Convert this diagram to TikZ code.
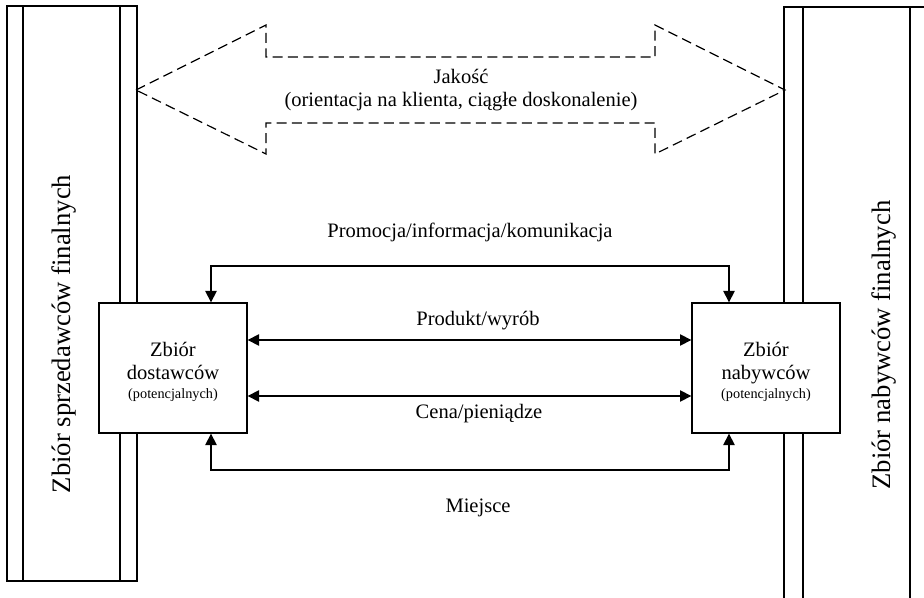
\documentclass[tikz,border=0pt]{standalone}
\usepackage{fontspec}
\setmainfont{Liberation Serif}
\usetikzlibrary{arrows.meta}

\begin{document}
\begin{tikzpicture}[x=0.75pt, y=-0.75pt,
    bar/.style={line width=1pt},
    box/.style={draw, fill=white, line width=1pt, minimum width=111pt, minimum height=97.5pt, inner sep=0pt},
    boxtext/.style={align=center, inner sep=0pt, font=\fontsize{15.4}{17.3}\selectfont},
    arr/.style={line width=1pt, {Triangle[length=8.5pt,width=8.5pt]}-{Triangle[length=8.5pt,width=8.5pt]}},
    lbl/.style={font=\fontsize{15.4}{17}\selectfont, inner sep=0pt},
    side/.style={font=\fontsize{20}{22}\selectfont, inner sep=0pt, rotate=90}]
    \useasboundingbox (0,0) rectangle (924,598);

    % the two side bars
    \begin{scope}
      \clip (0,0) rectangle (924,598);
      \draw[bar] (7,6) rectangle (137,581);
      \draw[bar] (23,6) -- (23,581);
      \draw[bar] (120,6) -- (120,581);
      \draw[bar] (784,610) -- (784,7) -- (940,7);
      \draw[bar] (803,7) -- (803,610);
      \draw[bar] (910,7) -- (910,610);
    \end{scope}
    \node[side] (sprz) at (64,334) {Zbiór sprzedawców finalnych};
    \node[side] (nabf) at (884,345) {Zbiór nabywców finalnych};

    % dashed quality arrow
    \draw[line width=0.9pt, dash pattern=on 7.5pt off 4pt]
      (136,90) -- (266,25) -- (266,57) -- (655,57) -- (655,25) -- (785,90)
      -- (655,154) -- (655,123) -- (266,123) -- (266,154) -- cycle;
    \node[lbl, align=center] (jak) at (461,90) {Jakość\\(orientacja na klienta, ciągłe doskonalenie)};

    % the two sets
    \node[box] (dost) at (173,368) {};
    \node[box] (nab)  at (766,368) {};
    \node[boxtext] (dostt) at (173,372) {Zbiór\\dostawców\\[-3pt]{\fontsize{10.7}{12}\selectfont (potencjalnych)}};
    \node[boxtext] (nabt)  at (766,372) {Zbiór\\nabywców\\[-3pt]{\fontsize{10.7}{12}\selectfont (potencjalnych)}};

    \coordinate (promo) at (470,266);
    \coordinate (miej)  at (470,470);

    \draw[arr] ([xshift=28.5pt]dost.north) |- (promo) -| ([xshift=-27.75pt]nab.north);
    \draw[arr] ([yshift=21pt]dost.east) -- ([yshift=21pt]nab.west);
    \draw[arr] ([yshift=-21pt]dost.east) -- ([yshift=-21pt]nab.west);
    \draw[arr] ([xshift=28.5pt]dost.south) |- (miej) -| ([xshift=-27.75pt]nab.south);

    \node[lbl] (promol) at (470,232) {Promocja/informacja/komunikacja};
    \node[lbl] (prodl)  at (478,321) {Produkt/wyrób};
    \node[lbl] (cenal)  at (479,414) {Cena/pieniądze};
    \node[lbl] (miejl)  at (478,508) {Miejsce};
\end{tikzpicture}
\end{document}
